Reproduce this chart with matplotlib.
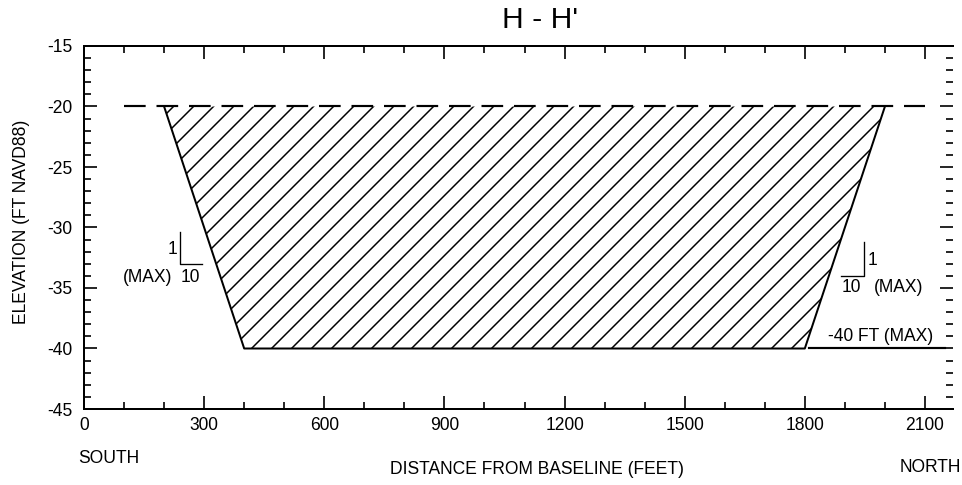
import matplotlib
matplotlib.use('Agg')
import matplotlib.pyplot as plt
from matplotlib.ticker import MultipleLocator

plt.rcParams['font.family'] = ['Liberation Sans', 'DejaVu Sans']
plt.rcParams['axes.unicode_minus'] = False
plt.rcParams['hatch.linewidth'] = 0.9

# dredge section outline (distance ft, elevation ft NAVD88)
section_x = [200, 400, 1800, 2000]
section_y = [-20, -40, -40, -20]

# existing / design line at -20
design_x = [100, 2100]
design_y = [-20, -20]

# -40 ft max depth marker
max_x = [1810, 2150]
max_y = [-40, -40]

# slope brackets (1 on 10)
left_bracket_x = [240, 240, 295]
left_bracket_y = [-30.4, -33.0, -33.0]
right_bracket_x = [1890, 1948, 1948]
right_bracket_y = [-34.0, -34.0, -31.2]

W, H = 962, 485
dpi = 120
fig = plt.figure(figsize=(W / dpi, H / dpi), dpi=dpi)
ax = fig.add_axes([84 / W, 1 - 409 / H, (953 - 84) / W, (409 - 46) / H])

ax.fill(section_x, section_y, facecolor='white', edgecolor='black',
        hatch='//', linewidth=0)
ax.plot(section_x, section_y, color='black', lw=1.2)
ax.plot(design_x, design_y, color='black', lw=1.3, dashes=(10, 5))
ax.plot(max_x, max_y, color='black', lw=1.3)
ax.text(1990, -39.7, '-40 FT (MAX)', ha='center', va='bottom', fontsize=10.5)

# slope annotations
ax.plot(left_bracket_x, left_bracket_y, color='black', lw=0.8)
ax.text(232, -31.8, '1', ha='right', va='center', fontsize=10.5)
ax.text(220, -34.1, '(MAX)', ha='right', va='center', fontsize=10.5)
ax.text(265, -34.1, '10', ha='center', va='center', fontsize=10.5)

ax.plot(right_bracket_x, right_bracket_y, color='black', lw=0.8)
ax.text(1958, -32.7, '1', ha='left', va='center', fontsize=10.5)
ax.text(1915, -35.0, '10', ha='center', va='center', fontsize=10.5)
ax.text(1972, -35.0, '(MAX)', ha='left', va='center', fontsize=10.5)

ax.set_xlim(0, 2170)
ax.set_ylim(-45, -15)
ax.xaxis.set_major_locator(MultipleLocator(300))
ax.xaxis.set_minor_locator(MultipleLocator(100))
ax.yaxis.set_major_locator(MultipleLocator(5))
ax.yaxis.set_minor_locator(MultipleLocator(1))
ax.tick_params(which='both', direction='in', top=True, right=True,
               width=1.0, labelsize=10.5)
ax.tick_params(which='major', length=8)
ax.tick_params(which='minor', length=4)
ax.tick_params(axis='y', pad=7)
ax.tick_params(axis='x', pad=5)
ax.spines['right'].set_visible(False)
for s in ['left', 'bottom', 'top']:
    ax.spines[s].set_linewidth(1.2)

fig.text(540 / W, 1 - 20 / H, "H - H'", ha='center', va='center', fontsize=18)
fig.text(22 / W, 1 - 222 / H, 'ELEVATION (FT NAVD88)', rotation=90,
         ha='center', va='center', fontsize=10.5)
fig.text(537 / W, 1 - 469 / H, 'DISTANCE FROM BASELINE (FEET)',
         ha='center', va='center', fontsize=10.5)
fig.text(78 / W, 1 - 458 / H, 'SOUTH', ha='left', va='center', fontsize=10.5)
fig.text(900 / W, 1 - 467 / H, 'NORTH', ha='left', va='center', fontsize=10.5)

fig.savefig('out.png', dpi=dpi)
